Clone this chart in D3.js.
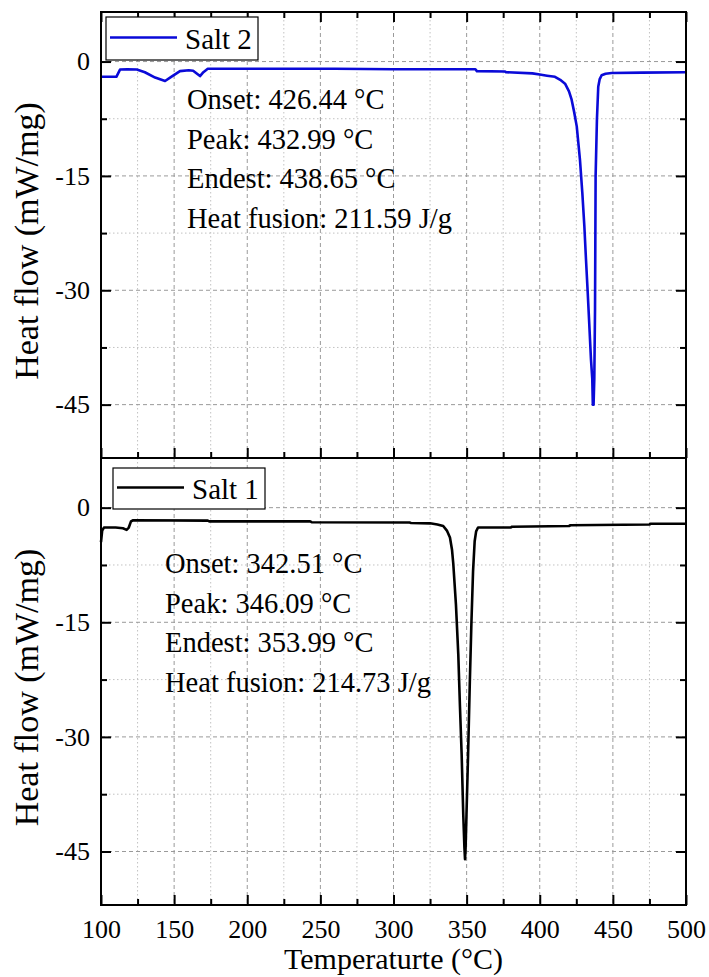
<!DOCTYPE html>
<meta charset="utf-8">
<html>
<head>
  <script src="https://d3js.org/d3.v7.min.js"></script>
  <style>
    body {
      margin: 0;
      background: #fff;
    }

    .grid-major {
      stroke: #9a9a9a;
      stroke-width: 1;
      stroke-dasharray: 4, 3;
    }

    .grid-minor {
      stroke: #c2c2c2;
      stroke-width: 1;
      stroke-dasharray: 1.5, 2.5;
    }

    .frame {
      fill: none;
      stroke: #000;
      stroke-width: 2;
    }

    .axis path {
      display: none;
    }

    .axis line {
      stroke: #000;
      stroke-width: 2;
    }
  </style>
</head>

<body>
  <script>
    // Salt 2 (top panel)
    var tempSalt2 = [100, 105, 110.5, 113, 118, 124.5, 130, 137, 143.8, 148, 154, 160, 163, 167.7, 170, 173,
      200, 260, 300, 356, 357, 376, 377, 395, 400, 405, 410.4, 414, 417.3, 420, 421.8, 423.5, 425.3,
      427.5, 429.1, 430.5, 431.6, 432.8, 433.9, 435, 435.9, 436.3, 436.8, 437.3, 437.8, 438.2, 439.1,
      440, 441, 442.3, 445, 449.2, 470, 500];
    var flowSalt2 = [-2.0, -2.0, -2.0, -1.05, -1.0, -1.05, -1.4, -2.1, -2.55, -2.0, -1.25, -1.15, -1.2, -1.9, -1.4, -0.95,
      -0.95, -0.95, -1.0, -1.0, -1.25, -1.3, -1.4, -1.55, -1.7, -1.85, -2.0, -2.4, -2.9, -3.9, -5.0, -6.6, -8.5,
      -12.9, -17.2, -21.6, -25.9, -30.3, -34.6, -39.0, -41.6, -45.0, -45.0, -41.6, -32.4, -15.0, -7.6,
      -3.3, -2.3, -1.8, -1.6, -1.5, -1.45, -1.4];

    // Salt 1 (bottom panel)
    var tempSalt1 = [100, 100.8, 102, 110, 115, 117.5, 119, 120.5, 122, 173, 174, 243, 244, 311, 312, 325, 330,
      334, 336.5, 338.6, 340, 340.9, 342.7, 344.3, 345.4, 346.6, 347.7, 348.5, 348.9, 349.3, 349.9, 351,
      352.2, 353.3, 354.4, 355.5, 356.5, 357.8, 380, 381, 420, 421, 475, 476, 500];
    var flowSalt1 = [-4.5, -3.0, -2.6, -2.6, -2.7, -2.9, -2.6, -1.8, -1.65, -1.7, -1.8, -1.8, -1.9, -1.95, -2.0, -2.05, -2.2,
      -2.4, -3.0, -3.9, -5.5, -7.4, -12.7, -19.2, -25.8, -32.3, -40.2, -44.5, -46.0, -44.5, -40.2, -32.3,
      -22.7, -14.9, -8.3, -4.4, -3.1, -2.6, -2.6, -2.5, -2.4, -2.3, -2.2, -2.1, -2.1];

    var notesSalt2 = ["Onset: 426.44 °C", "Peak: 432.99 °C", "Endest: 438.65 °C", "Heat fusion: 211.59 J/g"];
    var notesSalt1 = ["Onset: 342.51 °C", "Peak: 346.09 °C", "Endest: 353.99 °C", "Heat fusion: 214.73 J/g"];

    var xMajor = [100, 150, 200, 250, 300, 350, 400, 450, 500];
    var xMinor = [125, 175, 225, 275, 325, 375, 425, 475];
    var yMajor = [0, -15, -30, -45];
    var yMinor = [-7.5, -22.5, -37.5];

    var W = 709, H = 977;
    var left = 101, right = 686;
    var FONT = "'Liberation Serif'";
    var plain = function (d) { return String(d); }; // hyphen minus like the original

    var svg = d3.select("body").append("svg")
      .attr("width", W)
      .attr("height", H)
      .style("font-family", FONT);

    var x = d3.scaleLinear().domain([100, 500]).range([left, right]);

    var panels = [
      {
        label: "Salt 2", temp: tempSalt2, flow: flowSalt2, notes: notesSalt2, color: "#0a0ad8",
        top: 12, bottom: 458, topTicks: true,
        legend: { x: 106, y: 17, w: 152, h: 43 },
        noteX: 187, noteY: 109
      },
      {
        label: "Salt 1", temp: tempSalt1, flow: flowSalt1, notes: notesSalt1, color: "#000",
        top: 458, bottom: 905, topTicks: false,
        legend: { x: 113, y: 468, w: 152, h: 41 },
        noteX: 165, noteY: 573
      }
    ];

    panels.forEach(function (p, idx) {
      var y = d3.scaleLinear().domain([-52, 6.5]).range([p.bottom, p.top]);
      var g = svg.append("g");

      // grid lines
      g.selectAll(".gxm").data(xMinor).enter().append("line")
        .attr("class", "grid-minor")
        .attr("x1", x).attr("x2", x)
        .attr("y1", p.top).attr("y2", p.bottom);
      g.selectAll(".gym").data(yMinor).enter().append("line")
        .attr("class", "grid-minor")
        .attr("x1", left).attr("x2", right)
        .attr("y1", y).attr("y2", y);
      g.selectAll(".gxM").data(xMajor.slice(1, -1)).enter().append("line")
        .attr("class", "grid-major")
        .attr("x1", x).attr("x2", x)
        .attr("y1", p.top).attr("y2", p.bottom);
      g.selectAll(".gyM").data(yMajor).enter().append("line")
        .attr("class", "grid-major")
        .attr("x1", left).attr("x2", right)
        .attr("y1", y).attr("y2", y);

      // data line
      var pts = p.temp.map(function (t, i) { return [t, p.flow[i]]; });
      var line = d3.line()
        .x(function (d) { return x(d[0]); })
        .y(function (d) { return y(d[1]); });
      g.append("path")
        .datum(pts)
        .attr("d", line)
        .attr("fill", "none")
        .attr("stroke", p.color)
        .attr("stroke-width", 2.6)
        .attr("stroke-linejoin", "round");

      // axes - inward ticks
      var bottomAx = d3.axisBottom(x).tickValues(xMajor).tickSize(-10).tickPadding(15)
        .tickFormat(idx === 1 ? plain : "");
      g.append("g").attr("class", "axis").attr("transform", "translate(0," + p.bottom + ")").call(bottomAx);
      g.append("g").attr("class", "axis").attr("transform", "translate(0," + p.bottom + ")")
        .call(d3.axisBottom(x).tickValues(xMinor).tickSize(-6).tickFormat(""));

      if (p.topTicks) {
        g.append("g").attr("class", "axis").attr("transform", "translate(0," + p.top + ")")
          .call(d3.axisTop(x).tickValues(xMajor).tickSize(-10).tickFormat(""));
        g.append("g").attr("class", "axis").attr("transform", "translate(0," + p.top + ")")
          .call(d3.axisTop(x).tickValues(xMinor).tickSize(-6).tickFormat(""));
      }

      g.append("g").attr("class", "axis").attr("transform", "translate(" + left + ",0)")
        .call(d3.axisLeft(y).tickValues(yMajor).tickSize(-10).tickPadding(11).tickFormat(plain));
      g.append("g").attr("class", "axis").attr("transform", "translate(" + left + ",0)")
        .call(d3.axisLeft(y).tickValues(yMinor).tickSize(-6).tickFormat(""));
      g.append("g").attr("class", "axis").attr("transform", "translate(" + right + ",0)")
        .call(d3.axisRight(y).tickValues(yMajor).tickSize(-10).tickFormat(""));
      g.append("g").attr("class", "axis").attr("transform", "translate(" + right + ",0)")
        .call(d3.axisRight(y).tickValues(yMinor).tickSize(-6).tickFormat(""));

      g.selectAll(".axis").attr("font-family", null).attr("font-size", null);
      g.selectAll(".axis text")
        .style("font-family", FONT)
        .style("font-size", "26px")
        .attr("fill", "#000");

      // frame
      g.append("rect").attr("class", "frame")
        .attr("x", left).attr("y", p.top)
        .attr("width", right - left).attr("height", p.bottom - p.top);

      // legend
      var lg = p.legend;
      g.append("rect")
        .attr("x", lg.x).attr("y", lg.y).attr("width", lg.w).attr("height", lg.h)
        .attr("fill", "#fff").attr("stroke", "#000").attr("stroke-width", 1.2);
      g.append("line")
        .attr("x1", lg.x + 4).attr("x2", lg.x + 71)
        .attr("y1", lg.y + lg.h / 2 - 1).attr("y2", lg.y + lg.h / 2 - 1)
        .attr("stroke", p.color).attr("stroke-width", 2.6);
      g.append("text")
        .attr("x", lg.x + 79).attr("y", lg.y + lg.h / 2 + 10)
        .style("font-family", FONT)
        .style("font-size", "29px")
        .text(p.label);

      // annotations
      g.selectAll(".note").data(p.notes).enter().append("text")
        .attr("x", p.noteX)
        .attr("y", function (d, i) { return p.noteY + i * 39.5; })
        .style("font-family", FONT)
        .style("font-size", "28.5px")
        .text(function (d) { return d; });

      // y title
      g.append("text")
        .attr("transform", "translate(38," + ((p.top + p.bottom) / 2 + 6) + ") rotate(-90)")
        .attr("text-anchor", "middle")
        .style("font-family", FONT)
        .style("font-size", "34px")
        .text("Heat flow (mW/mg)");
    });

    svg.append("text")
      .attr("x", (left + right) / 2)
      .attr("y", 969)
      .attr("text-anchor", "middle")
      .style("font-family", FONT)
      .style("font-size", "30px")
      .text("Temperaturte (°C)");
  </script>
</body>

</html>
